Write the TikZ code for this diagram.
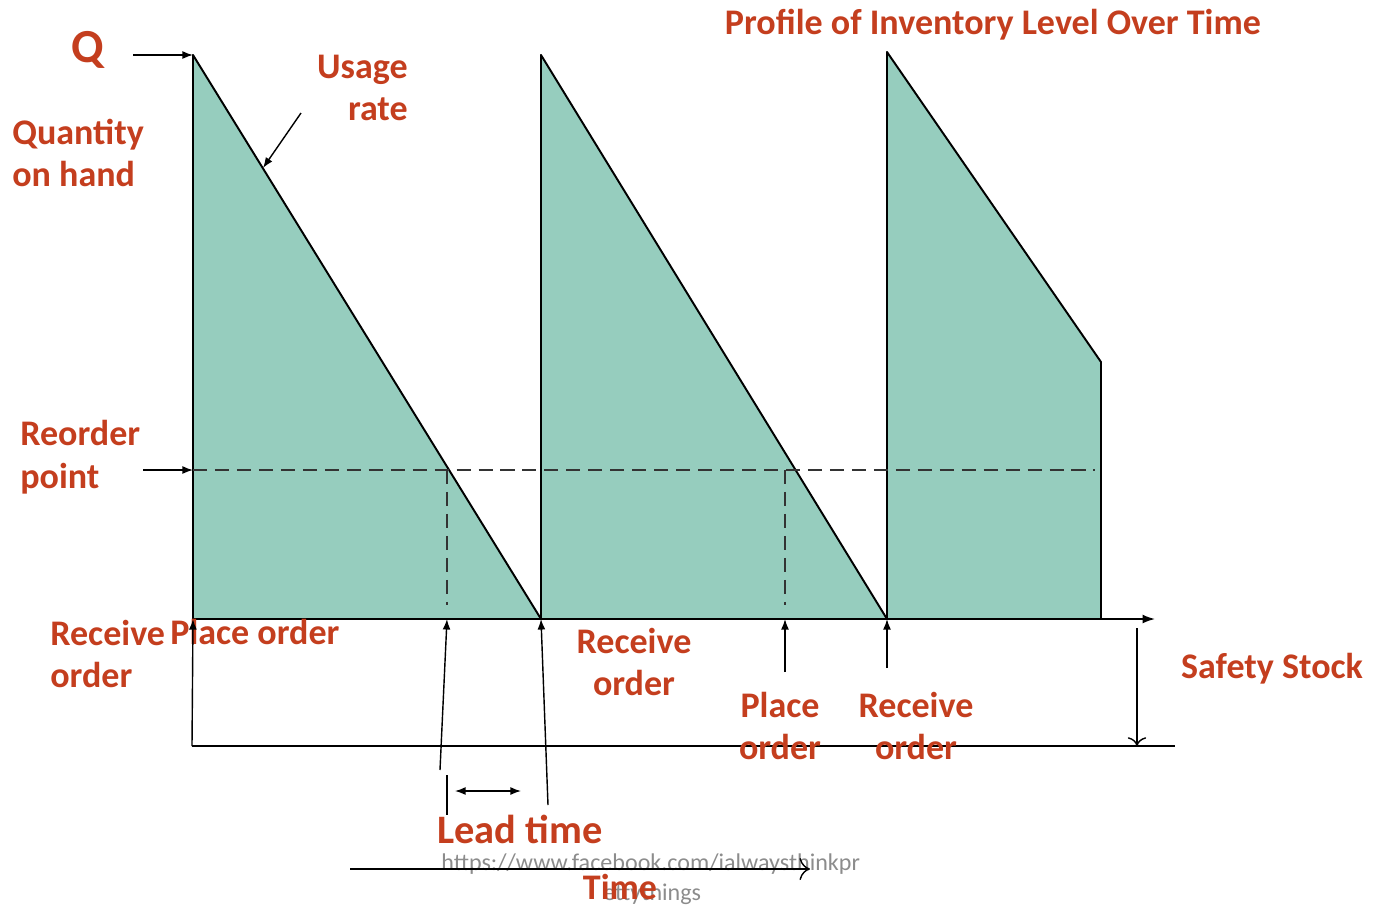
\documentclass[tikz,border=0pt]{standalone}
\usepackage{fontspec}
\setmainfont{Carlito}
\usetikzlibrary{arrows.meta}
\definecolor{labelred}{RGB}{196,62,30}
\definecolor{stockgreen}{RGB}{150,205,190}

\begin{document}
\begin{tikzpicture}[x=0.02cm,y=-0.02cm]
\pgfmathsetmacro{\yAxis}{619}
\pgfmathsetmacro{\yRop}{470}
\pgfmathsetmacro{\ySafe}{746}

\tikzstyle{lbl}=[text=labelred,font=\fontsize{20.5}{24.4}\selectfont\bfseries,inner sep=0pt]
\tikzstyle{web}=[text=black!45,font=\fontsize{13.7}{16}\selectfont,inner sep=0pt]
\tikzstyle{edge}=[line width=1.1pt,line cap=round]
\tikzstyle{ptr}=[line width=0.8pt,-{Latex[length=6pt,width=4.5pt]}]
\tikzstyle{rop}=[line width=1.1pt,black!80,dash pattern=on 8pt off 4.5pt]
\useasboundingbox (0,0) rectangle (1377,907);

\coordinate (topA) at (193,55);
\coordinate (topB) at (541,55);
\coordinate (topC) at (887,52);
\coordinate (baseA) at (193,\yAxis);
\coordinate (baseB) at (541,\yAxis);
\coordinate (baseC) at (887,\yAxis);
\coordinate (endC) at (1101,362);
\coordinate (floorC) at (1101,\yAxis);

\fill[stockgreen] (topA) -- (baseB) -- (baseA) -- cycle;
\fill[stockgreen] (topB) -- (baseC) -- (baseB) -- cycle;
\fill[stockgreen] (topC) -- (endC) -- (floorC) -- (baseC) -- cycle;
\draw[edge] (topA) -- (baseA);
\draw[edge] (topA) -- (baseB);
\draw[edge] (topB) -- (baseB);
\draw[edge] (topB) -- (baseC);
\draw[edge] (topC) -- (baseC);
\draw[edge] (topC) -- (endC) -- (floorC);

\coordinate (ropA) at (193,\yRop);
\coordinate (ropEnd) at (1095,\yRop);
\coordinate (crossA) at (447,\yRop);
\coordinate (crossB) at (785,\yRop);
\coordinate (dropA) at (447,605);
\coordinate (dropB) at (785,605);
\draw[rop] (ropA) -- (ropEnd);
\draw[rop] (crossA) -- (dropA);
\draw[rop] (crossB) -- (dropB);

\coordinate (axisEnd) at (1155,\yAxis);
\coordinate (safeL) at (192,\ySafe);
\coordinate (safeR) at (1175,\ySafe);
\draw[line width=0.9pt,-{Latex[length=7pt,width=5pt]}] (baseA) -- (axisEnd);
\draw[line width=0.9pt] (safeL) -- (safeR);

\node[web,anchor=west] (webA) at (441,864) {https://www.facebook.com/ialwaysthinkpr};
\node[web,anchor=west] (webB) at (603,894) {ettythings};

\node[lbl,font=\fontsize{27}{30}\selectfont\bfseries] (Q) at (88,50) {Q};
\node[lbl,align=right,anchor=east] (usage) at (408,88) {Usage\\rate};
\node[lbl,align=left,anchor=west] (qty) at (12,153) {Quantity\\on hand};
\node[lbl,align=left,anchor=west] (reorder) at (20,457) {Reorder\\point};
\node[lbl,align=left,anchor=west] (recvA) at (50,654) {Receive\\order};
\node[lbl,anchor=west] (placeA) at (170,632) {Place order};
\node[lbl,align=center] (recvB) at (634,662) {Receive\\order};
\node[lbl,align=center] (placeB) at (780,726) {Place\\order};
\node[lbl,align=center] (recvC) at (916,726) {Receive\\order};
\node[lbl] (safety) at (1272,669) {Safety Stock};
\node[lbl,font=\fontsize{23}{26}\selectfont\bfseries] (lead) at (520,829) {Lead time};
\node[lbl] (timeLbl) at (620,887) {Time};
\node[lbl] (title) at (993,25) {Profile of Inventory Level Over Time};

\coordinate (qTail) at (133,55);
\coordinate (usageTail) at (301,113);
\coordinate (usageHead) at (263,168);
\coordinate (ropTail) at (143,\yRop);
\draw[ptr] (qTail) -- (topA);
\draw[ptr] (usageTail) -- (usageHead);
\draw[ptr] (ropTail) -- (ropA);

\coordinate (placeTailA) at (440,770);
\coordinate (placeHeadA) at (447,\yAxis);
\coordinate (recvTailB) at (548,805);
\coordinate (placeTailB) at (785,672);
\coordinate (placeHeadB) at (785,\yAxis);
\coordinate (recvTailC) at (887,668);
\draw[ptr] (safeL) -- (baseA);
\draw[ptr] (placeTailA) -- (placeHeadA);
\draw[ptr] (recvTailB) -- (baseB);
\draw[ptr] (placeTailB) -- (placeHeadB);
\draw[ptr] (recvTailC) -- (baseC);

\coordinate (barTop) at (447,775);
\coordinate (barBot) at (447,815);
\coordinate (leadL) at (455,791);
\coordinate (leadR) at (521,791);
\draw[line width=0.8pt] (barTop) -- (barBot);
\draw[line width=0.8pt,{Latex[length=6pt,width=4.5pt]}-{Latex[length=6pt,width=4.5pt]}] (leadL) -- (leadR);

\coordinate (safeTop) at (1137,628);
\coordinate (safeBot) at (1137,\ySafe);
\draw[line width=0.8pt,-{To[length=5pt]}] (safeTop) -- (safeBot);

\coordinate (timeTail) at (350,869);
\coordinate (timeHead) at (810,869);
\draw[line width=0.8pt,-{To[length=6pt]}] (timeTail) -- (timeHead);
\end{tikzpicture}
\end{document}
